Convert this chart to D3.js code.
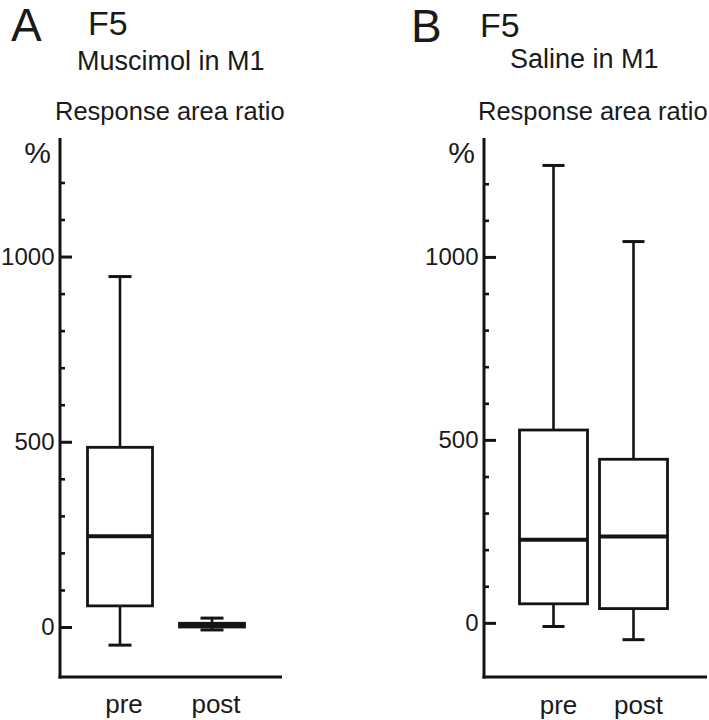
<!DOCTYPE html>
<html><head><meta charset="utf-8">
<script src="https://cdn.jsdelivr.net/npm/d3@7"></script>
<style>
body{margin:0;background:#fff}
svg{display:block}
text{font-family:"Liberation Sans",Arial,Helvetica,sans-serif;fill:#1a1a1a}
</style>
</head><body>
<svg id="c" width="709" height="720"></svg>
<script>
// ---- data ----
const categories = ["pre", "post"];
const muscimolMin    = [-49, -8];
const muscimolQ1     = [57, 0];
const muscimolMedian = [245, 5];
const muscimolQ3     = [485, 10];
const muscimolMax    = [946, 24];

const salineMin    = [-10, -46];
const salineQ1     = [52, 39];
const salineMedian = [227, 236];
const salineQ3     = [527, 447];
const salineMax    = [1250, 1042];

const majorTicks = [0, 500, 1000];
const minorTicks = [100, 200, 300, 400, 600, 700, 800, 900, 1100, 1200];

// ---- drawing ----
const svg = d3.select("#c");
const ink = "#141414";

function panel(cfg, mins, q1s, meds, q3s, maxs) {
  const g = svg.append("g");
  const y = d3.scaleLinear().domain(cfg.yDomain).range([cfg.yBottom, cfg.yTop]);
  const x = d3.scalePoint().domain(categories).range(cfg.xRange);

  // minor ticks
  g.append("g").attr("transform", `translate(${cfg.axisX},0)`)
    .call(d3.axisLeft(y).tickValues(minorTicks).tickSizeInner(-5).tickSizeOuter(0).tickFormat(""))
    .call(s => s.select(".domain").remove())
    .call(s => s.selectAll("line").attr("stroke", ink).attr("stroke-width", 2.6));

  // major ticks
  g.append("g").attr("transform", `translate(${cfg.axisX},0)`)
    .call(d3.axisLeft(y).tickValues(majorTicks).tickSizeInner(-12).tickSizeOuter(0).tickPadding(5.5).tickFormat(d3.format("d")))
    .call(s => s.select(".domain").remove())
    .call(s => s.selectAll("line").attr("stroke", ink).attr("stroke-width", 3))
    .call(s => s.selectAll("text").attr("font-size", 24).attr("fill", "#1a1a1a")
      .attr("font-family", "'Liberation Sans',Arial,sans-serif"));

  // axis lines
  g.append("line").attr("x1", cfg.axisX).attr("x2", cfg.axisX)
    .attr("y1", cfg.yTop).attr("y2", cfg.yBottom + 1.5)
    .attr("stroke", ink).attr("stroke-width", 3);
  g.append("line").attr("x1", cfg.axisX - 1.5).attr("x2", cfg.xEnd)
    .attr("y1", cfg.yBottom).attr("y2", cfg.yBottom)
    .attr("stroke", ink).attr("stroke-width", 3);

  // boxes
  categories.forEach((c, i) => {
    const cx = x(c);
    const bw = cfg.boxW, cw = cfg.capW;
    const bg = g.append("g").attr("stroke", ink).attr("fill", "none");
    bg.append("line").attr("x1", cx).attr("x2", cx).attr("y1", y(maxs[i])).attr("y2", y(q3s[i])).attr("stroke-width", 2.6);
    bg.append("line").attr("x1", cx).attr("x2", cx).attr("y1", y(q1s[i])).attr("y2", y(mins[i])).attr("stroke-width", 2.6);
    bg.append("line").attr("x1", cx - cw / 2).attr("x2", cx + cw / 2).attr("y1", y(maxs[i])).attr("y2", y(maxs[i])).attr("stroke-width", 3);
    bg.append("line").attr("x1", cx - cw / 2).attr("x2", cx + cw / 2).attr("y1", y(mins[i])).attr("y2", y(mins[i])).attr("stroke-width", 3);
    bg.append("rect").attr("x", cx - bw / 2).attr("width", bw)
      .attr("y", y(q3s[i])).attr("height", Math.max(0.5, y(q1s[i]) - y(q3s[i])))
      .attr("fill", "#fff").attr("stroke-width", 2.8);
    bg.append("line").attr("x1", cx - bw / 2).attr("x2", cx + bw / 2).attr("y1", y(meds[i])).attr("y2", y(meds[i])).attr("stroke-width", 4);

    g.append("text").attr("x", cx + cfg.labelDx).attr("y", cfg.labelY)
      .attr("text-anchor", "middle").attr("font-size", 26).text(c);
  });

  // titles
  g.append("text").attr("x", cfg.letterX).attr("y", cfg.letterY).attr("font-size", 46).text(cfg.letter);
  g.append("text").attr("x", cfg.f5X).attr("y", cfg.f5Y).attr("font-size", 34).text("F5");
  g.append("text").attr("x", cfg.subX).attr("y", cfg.subY).attr("font-size", 27).text(cfg.sub);
  g.append("text").attr("x", cfg.ratioX).attr("y", 120).attr("font-size", 25.5).text("Response area ratio");
  g.append("text").attr("x", cfg.axisX - 9).attr("y", 163).attr("text-anchor", "end").attr("font-size", 30).text("%");
}

panel({
  yDomain: [-135, 1320], yBottom: 677, yTop: 138,
  xRange: [120, 212], axisX: 60, xEnd: 282,
  boxW: 65, capW: 23, labelDx: 4, labelY: 713,
  letter: "A", letterX: 11, letterY: 41, f5X: 88, f5Y: 35,
  sub: "Muscimol in M1", subX: 77, subY: 70, ratioX: 55
}, muscimolMin, muscimolQ1, muscimolMedian, muscimolQ3, muscimolMax);

panel({
  yDomain: [-148, 1325], yBottom: 677, yTop: 138,
  xRange: [553.5, 633.5], axisX: 484, xEnd: 707,
  boxW: 68, capW: 22, labelDx: 5, labelY: 714,
  letter: "B", letterX: 411, letterY: 42, f5X: 480, f5Y: 37,
  sub: "Saline in M1", subX: 510, subY: 68, ratioX: 478
}, salineMin, salineQ1, salineMedian, salineQ3, salineMax);
</script>
</body></html>
